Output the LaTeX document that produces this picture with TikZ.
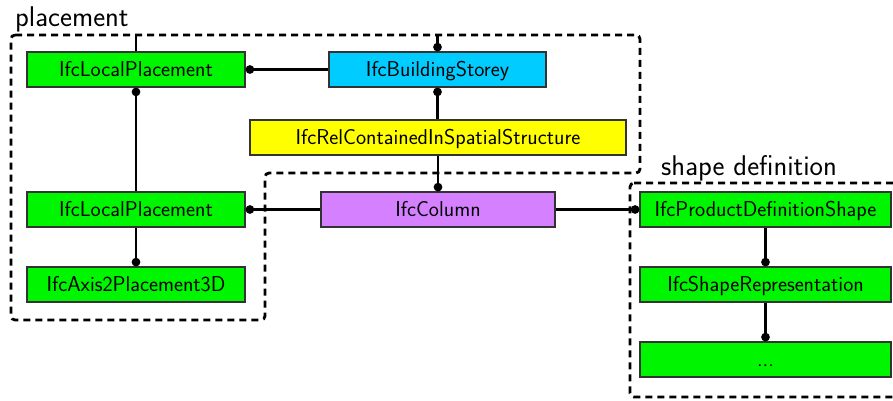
\documentclass[tikz,border=0pt]{standalone}
\usetikzlibrary{arrows.meta}
\definecolor{ifcgreen}{RGB}{0,245,0}
\definecolor{ifcblue}{RGB}{0,204,255}
\definecolor{ifcyellow}{RGB}{255,255,0}
\definecolor{ifcpurple}{RGB}{213,128,255}
\begin{document}
\begin{tikzpicture}[x=1pt,y=-1pt,
  entity/.style={draw=black!80, line width=1.3pt, minimum height=35pt, inner sep=0pt,
    font=\fontsize{21.5}{24}\sffamily, text height=14.6pt, text depth=0pt},
  link/.style={line width=2.9pt, black},
  dotstart/.style={link, {Circle[length=8.5pt]}-},
  dotend/.style={link, -{Circle[length=8.5pt]}},
  region/.style={line width=2.8pt, dash pattern=on 7pt off 5pt, rounded corners=4pt},
  regionlabel/.style={anchor=base west, inner sep=0pt, font=\fontsize{28.5}{32}\sffamily}]
\useasboundingbox (0,0) rectangle (893,400);
\clip (0,0) rectangle (893,400);

% grouping regions
\draw[region] (11,35) -- (640,35) -- (640,173) -- (265,173) -- (265,320) -- (11,320) -- cycle;
\draw[region] (630,183) -- (910,183) -- (910,397) -- (630,397) -- cycle;
\node[regionlabel] (lblplace) at (15,26) {placement};
\node[regionlabel] (lblshape) at (661,175.5) {shape definition};

% entities
\node[entity, fill=ifcgreen, minimum width=218pt] (lp1) at (136,69.5) {IfcLocalPlacement};
\node[entity, fill=ifcblue, minimum width=217pt] (bs) at (437.5,69.5) {IfcBuildingStorey};
\node[entity, fill=ifcyellow, minimum width=376pt] (rel) at (438,137.5) {IfcRelContainedInSpatialStructure};
\node[entity, fill=ifcgreen, minimum width=218pt] (lp2) at (136,209.5) {IfcLocalPlacement};
\node[entity, fill=ifcpurple, minimum width=234pt] (col) at (438,209.5) {IfcColumn};
\node[entity, fill=ifcgreen, minimum width=218pt] (ax) at (136,284.5) {IfcAxis2Placement3D};
\node[entity, fill=ifcgreen, minimum width=251pt] (pds) at (765.5,209.5) {IfcProductDefinitionShape};
\node[entity, fill=ifcgreen, minimum width=251pt] (sr) at (765.5,284.5) {IfcShapeRepresentation};
\node[entity, fill=ifcgreen, minimum width=251pt] (more) at (765.5,359.5) {...};

% free ends on the region border
\coordinate (lp1up) at (136,35);
\coordinate (bsup) at (437.5,35);

% connectors
\draw[link] (lp1.north) -- (lp1up);
\draw[dotend] (bsup) -- (bs.north);
\draw[dotstart] (lp1.east) -- (bs.west);
\draw[dotstart] (lp1.south) -- (lp2.north);
\draw[dotstart] (bs.south) -- (bs.south |- rel.north);
\draw[dotend] (rel.south) -- (col.north);
\draw[dotstart] (lp2.east) -- (col.west);
\draw[dotend] (lp2.south) -- (ax.north);
\draw[dotend] (col.east) -- (pds.west);
\draw[dotend] (pds.south) -- (sr.north);
\draw[dotend] (sr.south) -- (more.north);
\end{tikzpicture}
\end{document}
